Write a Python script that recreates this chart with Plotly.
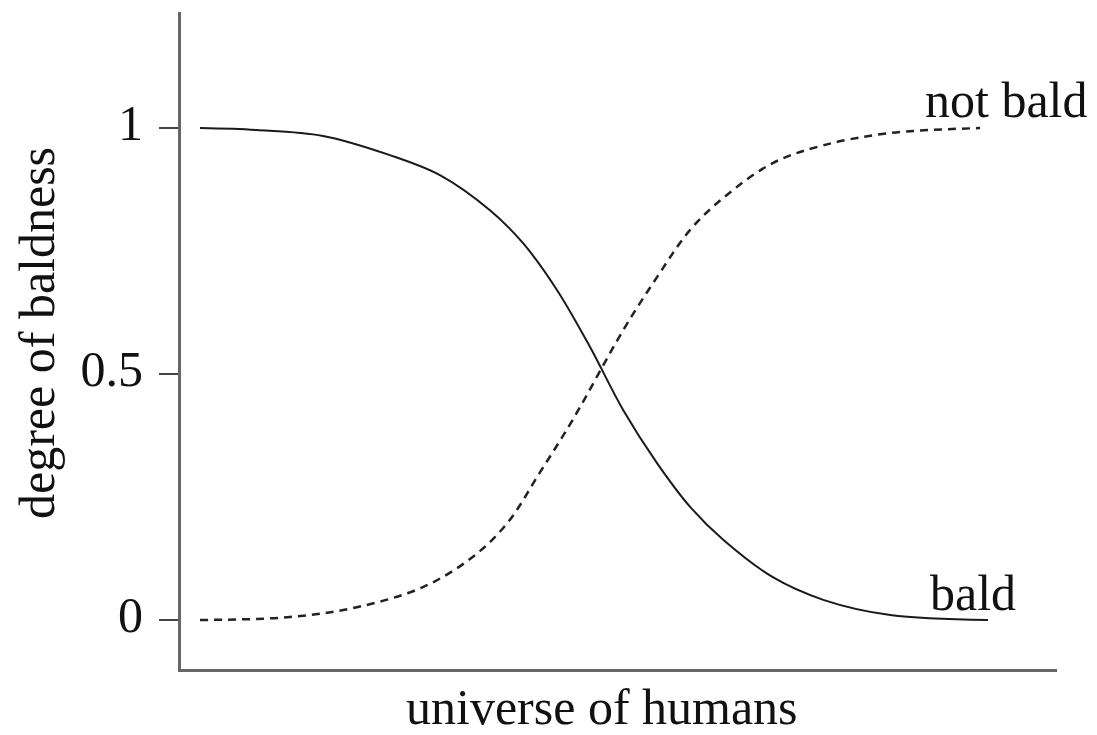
import plotly.graph_objects as go

# degree of baldness (x = position in the universe of humans, 0..1)
bald_x = [0.0, 0.072, 0.156, 0.241, 0.305, 0.368, 0.410, 0.453, 0.495, 0.537, 0.580,
          0.622, 0.664, 0.727, 0.791, 0.876, 1.0]
bald_y = [1.0, 0.996, 0.984, 0.945, 0.904, 0.833, 0.766, 0.671, 0.555, 0.427, 0.319,
          0.230, 0.163, 0.087, 0.041, 0.010, 0.0]

notbald_x = [0.0, 0.114, 0.199, 0.283, 0.346, 0.390, 0.431, 0.473, 0.537, 0.580, 0.622,
             0.664, 0.727, 0.791, 0.876, 0.99]
notbald_y = [0.0, 0.006, 0.026, 0.067, 0.128, 0.197, 0.299, 0.407, 0.589, 0.697, 0.793,
             0.858, 0.929, 0.965, 0.990, 1.0]

tick_vals = [0, 0.5, 1]
tick_text = ["0", "0.5", "1"]

serif = "Liberation Serif, Times New Roman, serif"
fsize = 50

fig = go.Figure()
fig.add_trace(go.Scatter(x=bald_x, y=bald_y, mode="lines", line_shape="spline",
                         line=dict(color="#1a1a1a", width=2), name="bald"))
fig.add_trace(go.Scatter(x=notbald_x, y=notbald_y, mode="lines", line_shape="spline",
                         line=dict(color="#222", width=2.5, dash="8px,6px"), name="not bald"))

# curve labels
fig.add_annotation(x=0.918, y=1.058, text="not bald", showarrow=False, xanchor="left", yanchor="middle",
                   font=dict(family=serif, size=fsize, color="#111"))
fig.add_annotation(x=0.924, y=0.054, text="bald", showarrow=False, xanchor="left", yanchor="middle",
                   font=dict(family=serif, size=fsize, color="#111"))

# axis titles
fig.add_annotation(xref="paper", yref="paper", x=0.4806, y=-0.058, text="universe of humans",
                   showarrow=False, xanchor="center", yanchor="middle",
                   font=dict(family=serif, size=fsize, color="#111"))
fig.add_annotation(xref="paper", yref="paper", x=-0.1644, y=0.5114, text="degree of baldness",
                   showarrow=False, xanchor="center", yanchor="middle", textangle=-90,
                   font=dict(family=serif, size=fsize, color="#111"))

# page body has an 8px margin, so the figure is a bit smaller than the window
fig.update_layout(
    width=1089, height=727,
    margin=dict(l=173, r=40, t=4, b=66),
    paper_bgcolor="white", plot_bgcolor="white",
    showlegend=False,
    xaxis=dict(range=[-0.0241, 1.0876], showgrid=False, zeroline=False, showticklabels=False,
               showline=True, linecolor="#666", linewidth=3, ticks=""),
    yaxis=dict(range=[-0.0996, 1.236], showgrid=False, zeroline=False,
               tickvals=tick_vals, ticktext=tick_text, ticks="outside", ticklen=19, tickwidth=2,
               tickcolor="#444", showline=True, linecolor="#666", linewidth=3,
               ticklabelstandoff=6, ticklabelshift=-6,
               tickfont=dict(family=serif, size=fsize, color="#111")),
)

fig.write_html("out.html")
